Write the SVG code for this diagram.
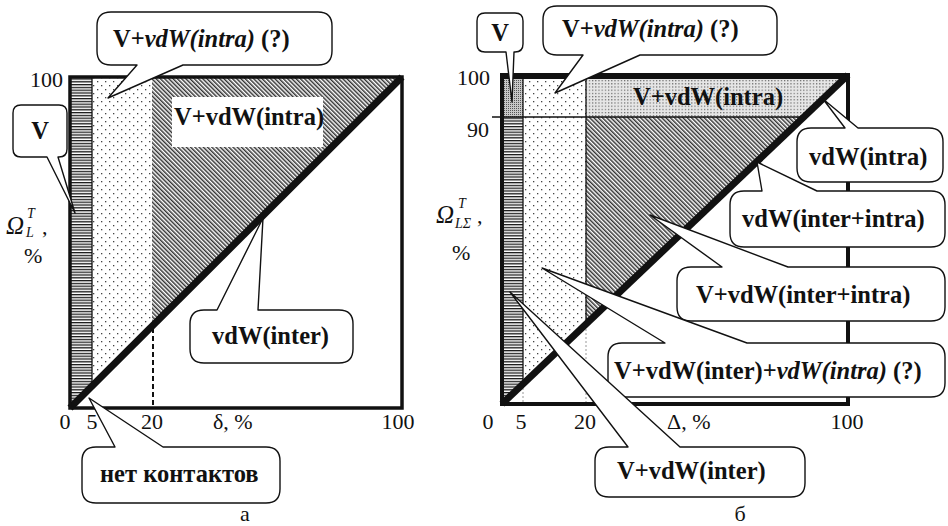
<svg xmlns="http://www.w3.org/2000/svg" width="948" height="526" viewBox="0 0 948 526" font-family="Liberation Serif, Times New Roman, serif">
<style>
text{font-family:"Liberation Serif","Times New Roman",serif;fill:#111}
.lb{font-size:24.5px;font-weight:bold}
.tk{font-size:22px}
.it{font-style:italic}
.co{fill:#fff;stroke:#111;stroke-width:1.4;stroke-linejoin:round}
.thin{stroke:#111;stroke-width:1.3;fill:none}
</style>
<defs>
<pattern id="hstripe" width="4" height="2.8" patternUnits="userSpaceOnUse"><rect width="4" height="2.8" fill="#fff"/><rect width="4" height="1.3" fill="#1a1a1a"/></pattern>
<pattern id="dots" width="8" height="8" patternUnits="userSpaceOnUse"><rect width="8" height="8" fill="#fff"/><rect x="1" y="1" width="1.3" height="1.3" fill="#444"/><rect x="5" y="5" width="1.3" height="1.3" fill="#444"/></pattern>
<pattern id="dense" width="3.2" height="3.2" patternUnits="userSpaceOnUse"><rect width="3.2" height="3.2" fill="#e6e6e6"/><rect width="1.2" height="1.2" fill="#666"/></pattern>
<pattern id="speck" width="2" height="2" patternUnits="userSpaceOnUse"><rect width="2" height="2" fill="#c8c8c8"/><rect width="1" height="1" fill="#555"/></pattern>
<pattern id="hatch" width="3" height="3" patternUnits="userSpaceOnUse" patternTransform="rotate(-45)"><rect width="3" height="3" fill="#fff"/><rect width="1.5" height="3" fill="#333"/></pattern>
<clipPath id="clipA"><polygon points="70,408 402,77 70,77"/></clipPath>
<clipPath id="clipB"><polygon points="502,404 848,75 502,75"/></clipPath>
</defs>
<rect width="948" height="526" fill="#fff"/>

<g id="chart-a">
  <g clip-path="url(#clipA)">
    <rect x="70" y="77" width="22" height="331" fill="url(#hstripe)"/>
    <rect x="92" y="77" width="60" height="331" fill="url(#dots)"/>
    <rect x="152" y="77" width="250" height="331" fill="url(#hatch)"/>
    <line x1="92" y1="77" x2="92" y2="408" class="thin"/>
  </g>
  <rect x="172" y="97" width="151" height="50" fill="#fff"/>
  <text class="lb" x="174" y="125" font-size="24">V+vdW(intra)</text>
  <line x1="153" y1="328" x2="153" y2="406" stroke="#111" stroke-width="2" stroke-dasharray="5 3"/>
  <line x1="70" y1="408" x2="402" y2="77" stroke="#111" stroke-width="7"/>
  <rect x="70" y="77" width="332" height="331" fill="none" stroke="#111" stroke-width="3.5"/>
  <text class="tk" x="63" y="87" text-anchor="end">100</text>
  <text class="tk" x="65" y="429" text-anchor="middle">0</text>
  <text class="tk" x="92" y="429" text-anchor="middle">5</text>
  <text class="tk" x="152" y="429" text-anchor="middle">20</text>
  <text class="tk" x="213" y="429">δ, %</text>
  <text class="tk" x="398" y="429" text-anchor="middle">100</text>
  <text class="it" x="6" y="234" font-size="25">Ω</text>
  <text class="it" x="27" y="218" font-size="14">T</text>
  <text class="it" x="26" y="237" font-size="14">L</text>
  <text class="tk" x="42" y="234">,</text>
  <text class="tk" x="24" y="263">%</text>
  <text class="tk" x="245" y="521" text-anchor="middle">а</text>
</g>

<g id="chart-b">
  <g clip-path="url(#clipB)">
    <rect x="502" y="75" width="21" height="42" fill="url(#speck)"/>
    <rect x="502" y="117" width="21" height="287" fill="url(#hstripe)"/>
    <rect x="523" y="75" width="63" height="329" fill="url(#dots)"/>
    <rect x="586" y="75" width="262" height="42" fill="url(#dense)"/>
    <rect x="586" y="117" width="262" height="287" fill="url(#hatch)"/>
    <line x1="523" y1="75" x2="523" y2="404" class="thin"/>
    <line x1="586" y1="75" x2="586" y2="404" class="thin"/>
  </g>
  <line x1="523" y1="384" x2="523" y2="404" stroke="#999" stroke-width="1" stroke-dasharray="2 2"/>
  <line x1="586" y1="325" x2="586" y2="404" stroke="#999" stroke-width="1" stroke-dasharray="2 2"/>
  <line x1="492" y1="117" x2="806" y2="117" class="thin"/>
  <text class="lb" x="633" y="105">V+vdW(intra)</text>
  <line x1="502" y1="404" x2="848" y2="75" stroke="#111" stroke-width="7"/>
  <rect x="502" y="75" width="346" height="329" fill="none" stroke="#111" stroke-width="4"/>
  <line x1="500" y1="76" x2="850" y2="76" stroke="#111" stroke-width="6"/>
  <text class="tk" x="490" y="85" text-anchor="end">100</text>
  <text class="tk" x="489" y="137" text-anchor="end">90</text>
  <text class="tk" x="488" y="429" text-anchor="middle">0</text>
  <text class="tk" x="521" y="429" text-anchor="middle">5</text>
  <text class="tk" x="585" y="429" text-anchor="middle">20</text>
  <text class="tk" x="667" y="429">Δ, %</text>
  <text class="tk" x="847" y="429" text-anchor="middle">100</text>
  <text class="it" x="436" y="223" font-size="25">Ω</text>
  <text class="it" x="458" y="208" font-size="14">T</text>
  <text class="it" x="455" y="228" font-size="14">LΣ</text>
  <text class="tk" x="477" y="223">,</text>
  <text class="tk" x="452" y="260">%</text>
  <text class="tk" x="740" y="521" text-anchor="middle">б</text>
</g>

<g id="callout-a-intra-q">
  <path class="co" d="M111,12 H318 Q332,12 332,26 V51 Q332,65 318,65 H183 L108,98 L137,65 H111 Q97,65 97,51 V26 Q97,12 111,12 Z"/>
  <text class="lb" x="113" y="47">V+<tspan class="it">vdW(intra)</tspan> (?)</text>
</g>
<g id="callout-a-v">
  <path class="co" d="M21,105 H59 Q67,105 67,113 V149 Q67,157 59,157 H58 L75,213 L47,157 H21 Q13,157 13,149 V113 Q13,105 21,105 Z"/>
  <text class="lb" x="40" y="139" text-anchor="middle">V</text>
</g>
<g id="callout-a-inter">
  <path class="co" d="M204,310 H217 L263,218 L258,310 H339 Q353,310 353,324 V349 Q353,363 339,363 H204 Q190,363 190,349 V324 Q190,310 204,310 Z"/>
  <text class="lb" x="212" y="344">vdW(inter)</text>
</g>
<g id="callout-a-none">
  <path class="co" d="M96,447 H115 L89,398 L163,447 H266 Q280,447 280,461 V489 Q280,503 266,503 H96 Q82,503 82,489 V461 Q82,447 96,447 Z"/>
  <text class="lb" x="100" y="482" font-size="22">нет контактов</text>
</g>

<g id="callout-b-v">
  <path class="co" d="M485,13 H515 Q523,13 523,21 V44 Q523,52 515,52 H514 L512,102 L506,52 H485 Q477,52 477,44 V21 Q477,13 485,13 Z"/>
  <text class="lb" x="500" y="41" text-anchor="middle">V</text>
</g>
<g id="callout-b-intra-q">
  <path class="co" d="M557,6 H763 Q777,6 777,20 V41 Q777,55 763,55 H640 L555,93 L583,55 H557 Q543,55 543,41 V20 Q543,6 557,6 Z"/>
  <text class="lb" x="562" y="37">V+<tspan class="it">vdW(intra)</tspan> (?)</text>
</g>
<g id="callout-b-intra">
  <path class="co" d="M811,128 H845 L823,99 L858,128 H929 Q943,128 943,142 V168 Q943,182 929,182 H811 Q797,182 797,168 V142 Q797,128 811,128 Z"/>
  <text class="lb" x="809" y="165">vdW(intra)</text>
</g>
<g id="callout-b-inter-intra">
  <path class="co" d="M744,191 H762 L757,162 L817,191 H931 Q945,191 945,205 V233 Q945,247 931,247 H744 Q730,247 730,233 V205 Q730,191 744,191 Z"/>
  <text class="lb" x="742" y="227">vdW(inter+intra)</text>
</g>
<g id="callout-b-v-inter-intra">
  <path class="co" d="M691,267 H722 L650,215 L788,267 H931 Q945,267 945,281 V307 Q945,321 931,321 H691 Q677,321 677,307 V281 Q677,267 691,267 Z"/>
  <text class="lb" x="696" y="303">V+vdW(inter+intra)</text>
</g>
<g id="callout-b-v-inter-intra-q">
  <path class="co" d="M622,343 H665 L542,268 L747,343 H931 Q945,343 945,357 V383 Q945,397 931,397 H622 Q608,397 608,383 V357 Q608,343 622,343 Z"/>
  <text class="lb" x="614" y="379">V+vdW(inter)+<tspan class="it">vdW(intra)</tspan> (?)</text>
</g>
<g id="callout-b-v-inter">
  <path class="co" d="M609,447 H628 L510,292 L680,447 H791 Q805,447 805,461 V483 Q805,497 791,497 H609 Q595,497 595,483 V461 Q595,447 609,447 Z"/>
  <text class="lb" x="617" y="479">V+vdW(inter)</text>
</g>
</svg>
